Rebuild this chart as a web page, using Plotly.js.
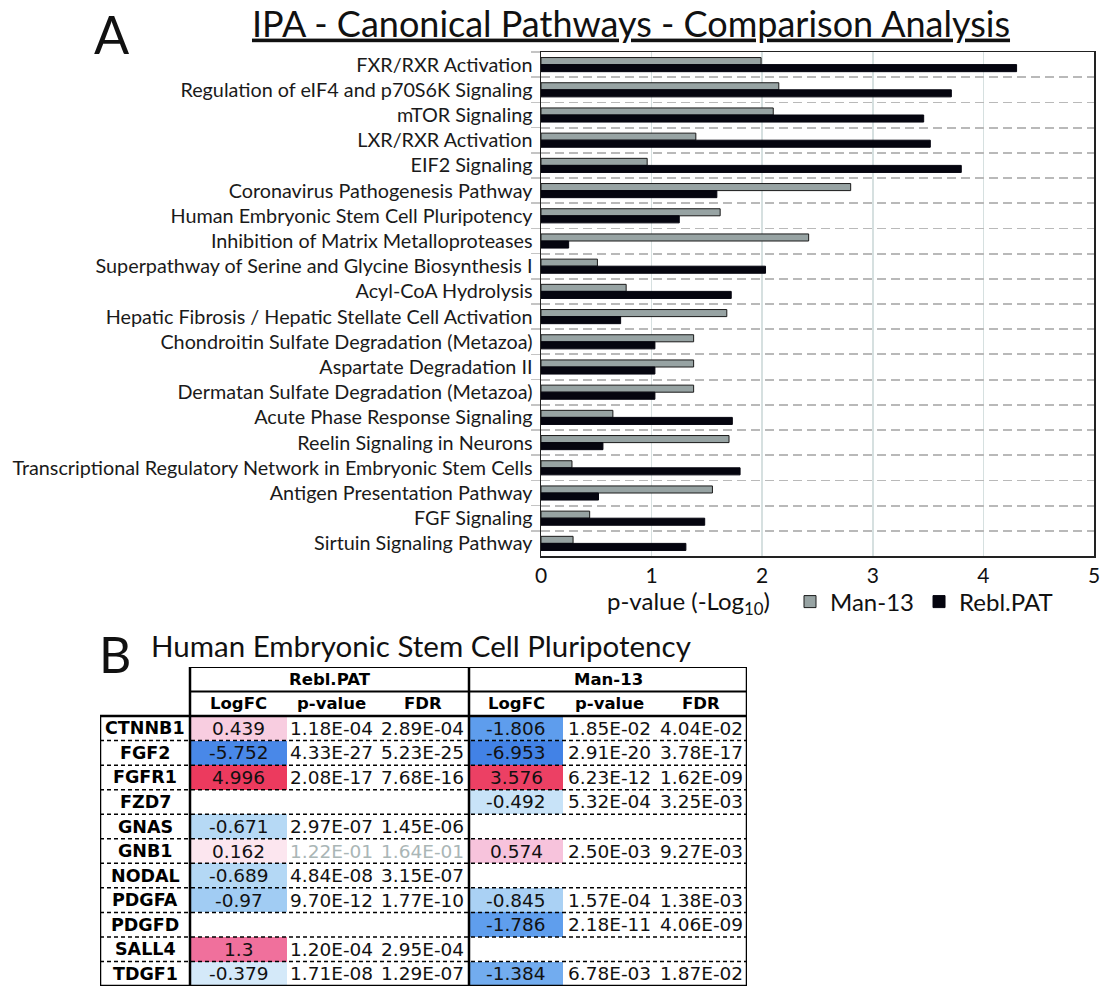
<!DOCTYPE html>
<html><head><meta charset="utf-8">
<script src="https://cdn.plot.ly/plotly-3.0.1.min.js"></script>
<style>html,body{margin:0;padding:0;background:#fff}#chart{width:1112px;height:990px}</style>
</head><body><div id="chart"></div>
<script>
// ---------- Panel A data ----------
const pathways = [
  'FXR/RXR Activation',
  'Regulation of eIF4 and p70S6K Signaling',
  'mTOR Signaling',
  'LXR/RXR Activation',
  'EIF2 Signaling',
  'Coronavirus Pathogenesis Pathway',
  'Human Embryonic Stem Cell Pluripotency',
  'Inhibition of Matrix Metalloproteases',
  'Superpathway of Serine and Glycine Biosynthesis I',
  'Acyl-CoA Hydrolysis',
  'Hepatic Fibrosis / Hepatic Stellate Cell Activation',
  'Chondroitin Sulfate Degradation (Metazoa)',
  'Aspartate Degradation II',
  'Dermatan Sulfate Degradation (Metazoa)',
  'Acute Phase Response Signaling',
  'Reelin Signaling in Neurons',
  'Transcriptional Regulatory Network in Embryonic Stem Cells',
  'Antigen Presentation Pathway',
  'FGF Signaling',
  'Sirtuin Signaling Pathway'
];
const man13 =   [1.99, 2.15, 2.10, 1.40, 0.96, 2.80, 1.62, 2.42, 0.51, 0.77, 1.68, 1.38, 1.38, 1.38, 0.65, 1.70, 0.28, 1.55, 0.44, 0.29];
const reblPAT = [4.30, 3.71, 3.46, 3.52, 3.80, 1.59, 1.25, 0.25, 2.03, 1.72, 0.72, 1.03, 1.03, 1.03, 1.73, 0.56, 1.80, 0.52, 1.48, 1.31];

// ---------- Panel B data ----------
const genes = ['CTNNB1','FGF2','FGFR1','FZD7','GNAS','GNB1','NODAL','PDGFA','PDGFD','SALL4','TDGF1'];
const groupNames = ['Rebl.PAT','Man-13'];
const colNames = ['LogFC','p-value','FDR'];
const reblLogFC = [0.439,-5.752,4.996,null,-0.671,0.162,-0.689,-0.97,null,1.3,-0.379];
const reblP   = ['1.18E-04','4.33E-27','2.08E-17',null,'2.97E-07','1.22E-01','4.84E-08','9.70E-12',null,'1.20E-04','1.71E-08'];
const reblFDR = ['2.89E-04','5.23E-25','7.68E-16',null,'1.45E-06','1.64E-01','3.15E-07','1.77E-10',null,'2.95E-04','1.29E-07'];
const manLogFC = [-1.806,-6.953,3.576,-0.492,null,0.574,null,-0.845,-1.786,null,-1.384];
const manP   = ['1.85E-02','2.91E-20','6.23E-12','5.32E-04',null,'2.50E-03',null,'1.57E-04','2.18E-11',null,'6.78E-03'];
const manFDR = ['4.04E-02','3.78E-17','1.62E-09','3.25E-03',null,'9.27E-03',null,'1.38E-03','4.06E-09',null,'1.87E-02'];

// ---------- styling ----------
const W = 1112, H = 990;
const FONT = 'Lato, "Open Sans", sans-serif';
const TFONT = '"DejaVu Sans", "Liberation Sans", Arial, sans-serif';
const colWidths = [90, 97, 89, 93, 94, 92, 92];   // gene | Rebl LogFC,p,FDR | Man LogFC,p,FDR
const edges = [0]; colWidths.forEach(w => edges.push(edges[edges.length-1] + w));
const nHeader = 2, nRows = genes.length, totalRows = nHeader + nRows;
const yEdges = []; for (let i = nHeader; i <= totalRows; i++) yEdges.push(i);

const px = v => v / W, py = v => 1 - v / H;

const fcScale = [
  [0.000, '#4282e6'], [0.433, '#5e9ded'], [0.468, '#72acef'], [0.503, '#a2ccf3'],
  [0.526, '#b4d8f5'], [0.552, '#d4e9f9'], [0.5833, '#ffffff'], [0.597, '#fce6ef'],
  [0.620, '#f8cde0'], [0.631, '#f7c3dc'], [0.692, '#f0709c'], [0.881, '#ec4064'], [1.000, '#ec3a5e']
];

const traces = [
  {type:'bar', orientation:'h', name:'Man-13', y: pathways, x: man13,
   marker:{color:'#97a3a3', line:{color:'#1a1a1a', width:1}}, xaxis:'x', yaxis:'y', hoverinfo:'x'},
  {type:'bar', orientation:'h', name:'Rebl.PAT', y: pathways, x: reblPAT,
   marker:{color:'#05050f', line:{color:'#05050f', width:1}}, xaxis:'x', yaxis:'y', hoverinfo:'x'},
  {type:'heatmap', x:[edges[1], edges[2]], y: yEdges, z: reblLogFC.map(v => [v]),
   zmin:-7, zmax:5, colorscale: fcScale, showscale:false, xaxis:'x2', yaxis:'y2', hoverinfo:'skip', showlegend:false},
  {type:'heatmap', x:[edges[4], edges[5]], y: yEdges, z: manLogFC.map(v => [v]),
   zmin:-7, zmax:5, colorscale: fcScale, showscale:false, xaxis:'x2', yaxis:'y2', hoverinfo:'skip', showlegend:false}
];

const P = (text, x, y, size) => ({text, x:px(x), y:py(y), xref:'paper', yref:'paper', showarrow:false,
  xanchor:'center', yanchor:'middle', font:{family:FONT, size, color:'#111'}});
const annotations = [
  P('A', 112, 34, 52),
  P('B', 115, 654, 50),
  P('Human Embryonic Stem Cell Pluripotency', 421, 645, 29.5),
  P('p-value (-Log<sub>10</sub>)', 688, 602, 24)
];
const shapes = [];

const cx = i => (edges[i] + edges[i+1]) / 2;
const T = (text, x, y, size, color) => annotations.push({text, x, y, xref:'x2', yref:'y2', showarrow:false,
  xanchor:'center', yanchor:'middle', font:{family:TFONT, size, color: color || '#000'}});
// group headers and column headers
groupNames.forEach((g, gi) => {
  const c0 = 1 + gi*3;
  T('<b>'+g+'</b>', (edges[c0]+edges[c0+3])/2, 0.5, 16.5);
  colNames.forEach((c, ci) => T('<b>'+c+'</b>', cx(c0+ci), 1.5, 16.5));
});
// body
const groupCols = [[reblLogFC, reblP, reblFDR], [manLogFC, manP, manFDR]];
genes.forEach((gname, r) => {
  const yc = nHeader + r + 0.5;
  T('<b>'+gname+'</b>', cx(0), yc, 17.5);
  groupCols.forEach((cols, gi) => {
    const pval = cols[1][r];
    const nonSig = pval !== null && parseFloat(pval) > 0.05;
    cols.forEach((arr, ci) => {
      const v = arr[r];
      if (v === null) return;
      T(String(v), cx(1+gi*3+ci), yc, 18.5, (ci > 0 && nonSig) ? '#aab6b6' : '#111');
    });
  });
});
// table lines
const L = (x0,y0,x1,y1,w,dash) => shapes.push({type:'line', xref:'x2', yref:'y2', x0, y0, x1, y1,
  line:{color:'#000', width:w, dash: dash || 'solid'}});
L(edges[1], 0, edges[7], 0, 2);
L(edges[1], 1, edges[7], 1, 2);
L(edges[0], 2, edges[7], 2, 2.5);
for (let r = nHeader+1; r < totalRows; r++) L(edges[0], r, edges[7], r, 1.5, '4px,3px');
L(edges[0], totalRows, edges[7], totalRows, 2.5);
L(edges[0], 2, edges[0], totalRows, 2.5);
L(edges[1], 0, edges[1], totalRows, 2.5);
L(edges[4], 0, edges[4], totalRows, 2.5);
L(edges[7], 0, edges[7], totalRows, 2.5);

const layout = {
  width: W, height: H, margin:{l:0, r:0, t:0, b:0},
  paper_bgcolor:'#fff', plot_bgcolor:'#fff',
  title:{text:'<span style="text-decoration:underline">IPA - Canonical Pathways - Comparison Analysis</span>',
    x:px(631), xanchor:'center', y:py(24), yanchor:'middle', font:{family:FONT, size:36, color:'#111'}},
  barmode:'group', bargap:0.44, bargroupgap:0,
  showlegend:true,
  legend:{orientation:'h', x:px(790), xanchor:'left', y:py(602), yanchor:'middle',
    font:{family:FONT, size:24, color:'#111'}, bgcolor:'rgba(0,0,0,0)', itemwidth:30, tracegroupgap:0},
  xaxis:{domain:[px(541), px(1094)], range:[0,5], dtick:1, tick0:0, showgrid:true, gridcolor:'#d6e0e0', gridwidth:1.5,
    showline:true, linecolor:'#222', linewidth:1.5, mirror:true, ticks:'', zeroline:false,
    tickfont:{family:FONT, size:21, color:'#111'}, anchor:'y', fixedrange:true},
  yaxis:{domain:[py(556), py(52)], autorange:'reversed', type:'category', tickson:'boundaries',
    showgrid:true, gridcolor:'#b9b9b9', gridwidth:1.8, griddash:'9px,5px',
    showline:true, linecolor:'#222', linewidth:1.5, mirror:true,
    ticks:'outside', ticklen:9, tickcolor:'#c4c4c4', tickwidth:1.5, ticklabelstandoff:3,
    tickfont:{family:FONT, size:19.8, color:'#1a1a1a'}, anchor:'x', fixedrange:true},
  xaxis2:{domain:[px(100), px(747)], range:[edges[0], edges[7]], visible:false, anchor:'y2', fixedrange:true},
  yaxis2:{domain:[py(986), py(667)], range:[totalRows, 0], visible:false, anchor:'x2', fixedrange:true},
  annotations, shapes
};

Plotly.newPlot('chart', traces, layout, {displayModeBar:false, staticPlot:true});
</script></body></html>
